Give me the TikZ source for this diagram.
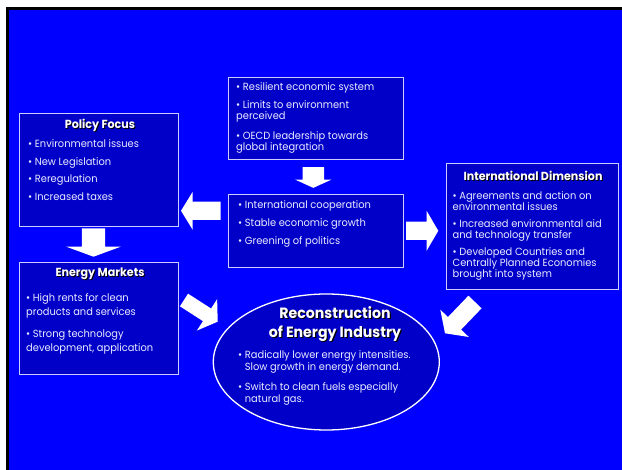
\documentclass[tikz,border=0pt]{standalone}
\usepackage{fontspec}
\setmainfont{Poppins}[FakeStretch=0.95]
\usetikzlibrary{calc,shapes.geometric}
\definecolor{bgblue}{RGB}{0,0,255}
\definecolor{boxblue}{RGB}{0,0,200}
\definecolor{edgecol}{RGB}{205,205,255}
\definecolor{txtcol}{RGB}{235,235,255}
% block arrow: name, tail, tip, body half width, head half width, head length
\newcommand\blockarrow[6]{%
  \coordinate (#1-b) at ($(#3)!#6!(#2)$);
  \fill[white] ($(#2)!#4!90:(#3)$) -- ($(#1-b)!#4!90:(#3)$) -- ($(#1-b)!#5!90:(#3)$)
    -- (#3) -- ($(#1-b)!#5!-90:(#3)$) -- ($(#1-b)!#4!-90:(#3)$) -- ($(#2)!#4!-90:(#3)$) -- cycle;
}
\begin{document}
\begin{tikzpicture}[x=1pt,y=-1pt,
  panel/.style={draw=edgecol,fill=boxblue,line width=0.9pt,inner sep=0pt},
  itemtxt/.style={text=txtcol,align=left,anchor=north west,inner sep=0pt,
    font=\fontsize{10.4}{11}\selectfont},
  headtxt/.style={text=white,inner sep=0pt,font=\bfseries\fontsize{11.7}{13}\selectfont},
  headshadow/.style={text=black,inner sep=0pt,font=\bfseries\fontsize{11.7}{13}\selectfont},
  bigtxt/.style={text=white,inner sep=0pt,font=\bfseries\fontsize{14.9}{16}\selectfont},
  bigshadow/.style={text=black,inner sep=0pt,font=\bfseries\fontsize{14.9}{16}\selectfont}]
\useasboundingbox (0,0) rectangle (622,470);
\fill[white] (0,0) rectangle (622,470);
\fill[black] (5.5,7) rectangle (622,470);
\fill[bgblue] (8.5,10) rectangle (622,470);

% panels
\node[panel,minimum width=175pt,minimum height=82pt] (top) at (315.5,118) {};
\node[panel,minimum width=159pt,minimum height=113pt] (policy) at (98.5,169.5) {};
\node[panel,minimum width=175pt,minimum height=73pt] (central) at (315.5,230.5) {};
\node[panel,minimum width=172pt,minimum height=126pt] (intl) at (532,226) {};
\node[panel,minimum width=159pt,minimum height=112pt] (energy) at (98.5,318) {};
\node[panel,ellipse,draw=white,line width=1.3pt,minimum width=226pt,minimum height=136pt] (recon) at (326.3,362) {};

% top panel text
\node[itemtxt] (t1) at (236,82.7) {• Resilient economic system};
\node[itemtxt] (t2) at (236,100) {• Limits to environment\\perceived};
\node[itemtxt] (t3) at (236,131) {• OECD leadership towards\\global integration};

% policy focus
\node[headshadow] (pfs) at (101,126) {Policy Focus};
\node[headtxt] (pf) at (100,125) {Policy Focus};
\node[itemtxt,font=\fontsize{10.4}{17.9}\selectfont] (p1) at (28,139)
  {• Environmental issues\\• New Legislation\\• Reregulation\\• Increased taxes};

% central panel
\node[itemtxt,font=\fontsize{10.4}{18}\selectfont] (c1) at (238,200.7)
  {• International cooperation\\• Stable economic growth\\• Greening of politics};

% international dimension
\node[headshadow] (ids) at (534,177) {International Dimension};
\node[headtxt] (id) at (533,176) {International Dimension};
\node[itemtxt] (i1) at (452.5,191) {• Agreements and action on\\environmental issues};
\node[itemtxt] (i2) at (452.5,219) {• Increased environmental aid\\and technology transfer};
\node[itemtxt] (i3) at (452.5,247.7) {• Developed Countries and\\Centrally Planned Economies\\brought into system};

% energy markets
\node[headshadow] (ems) at (101,274.3) {Energy Markets};
\node[headtxt] (em) at (100,273.3) {Energy Markets};
\node[itemtxt,font=\fontsize{10.4}{14.5}\selectfont] (e1) at (26,293.3) {• High rents for clean\\products and services};
\node[itemtxt,font=\fontsize{10.4}{14.5}\selectfont] (e2) at (26,329.3) {• Strong technology\\development, application};

% reconstruction
\node[bigshadow] (r1s) at (336.2,313.5) {Reconstruction};
\node[bigtxt] (r1) at (335,312.3) {Reconstruction};
\node[bigshadow] (r2s) at (336.2,335.2) {of Energy Industry};
\node[bigtxt] (r2) at (335,334) {of Energy Industry};
\node[itemtxt,font=\fontsize{10.4}{12.3}\selectfont] (rb1) at (238,350)
  {• Radically lower energy intensities.\\\hphantom{• }Slow growth in energy demand.};
\node[itemtxt,font=\fontsize{10.4}{12.3}\selectfont] (rb2) at (238,382.3)
  {• Switch to clean fuels especially\\\hphantom{• }natural gas.};

% block arrows
\coordinate (a1t) at ($(top.south)+(-2.2,7.7)$);
\coordinate (a1h) at ($(central.north)+(-2.2,-5.7)$);
\blockarrow{a1}{a1t}{a1h}{10.7pt}{18.3pt}{8.3pt}
\coordinate (a2t) at (220.7,210.8);
\coordinate (a2h) at (181,210.8);
\blockarrow{a2}{a2t}{a2h}{9.2pt}{19pt}{11.7pt}
\coordinate (a3t) at (406,230.8);
\coordinate (a3h) at (438.3,230.8);
\blockarrow{a3}{a3t}{a3h}{9.2pt}{20pt}{11.7pt}
\coordinate (a4t) at (93.5,228.3);
\coordinate (a4h) at (93.5,256.7);
\blockarrow{a4}{a4t}{a4h}{11.7pt}{27.2pt}{10pt}
\coordinate (a5t) at (184,300);
\coordinate (a5h) at (217.7,321.7);
\blockarrow{a5}{a5t}{a5h}{7.5pt}{18.7pt}{12.7pt}
\coordinate (a6t) at (475,302);
\coordinate (a6h) at (445,333.3);
\blockarrow{a6}{a6t}{a6h}{9.1pt}{19.7pt}{13.8pt}
\end{tikzpicture}
\end{document}
